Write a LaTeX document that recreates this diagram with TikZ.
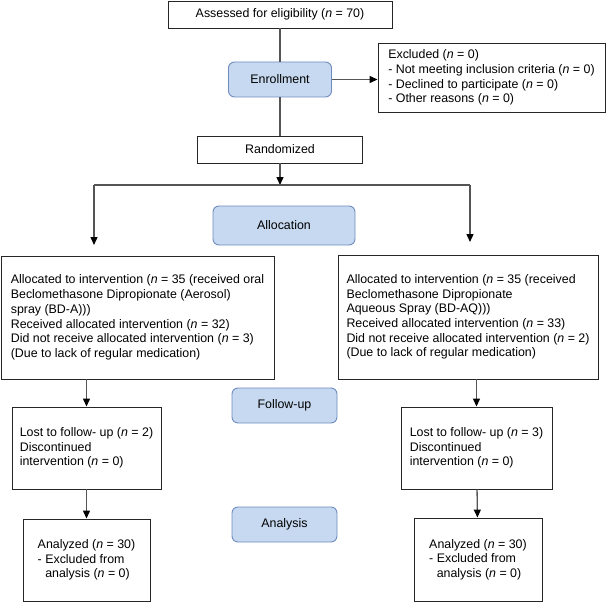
\documentclass[tikz,border=0pt]{standalone}
\usepackage{fontspec}
\setmainfont{Liberation Sans}
\usepackage{xcolor}
\usetikzlibrary{positioning,arrows.meta}
\definecolor{phasefill}{RGB}{198,217,240}
\definecolor{phaseline}{RGB}{110,140,190}
\definecolor{lnkgray}{RGB}{85,85,85}

\begin{document}
\begin{tikzpicture}[x=1pt,y=-1pt,
  box/.style={draw=black!85,line width=.9pt,fill=white,align=left,inner sep=0pt,
    font=\fontsize{12.4}{14.7}\selectfont},
  phase/.style={box,draw=phaseline,fill=phasefill,rounded corners=6pt,align=center},
  lnk/.style={draw=lnkgray,line width=1.3pt},
  arr/.style={lnk,-{Triangle[length=8pt,width=7pt,color=black]}}]
\useasboundingbox (0,0) rectangle (606,602);
% enrollment
\node[box,minimum width=224,minimum height=27] (assess) at (280,14.5)
  {Assessed for eligibility (\textit{n} = 70)};
\node[phase,minimum width=103,minimum height=35] (enroll) at (280,79.5) {Enrollment};
\node[box,minimum width=227,minimum height=69] (excl) at (491.5,77.5)
  {Excluded (\textit{n} = 0)\\- Not meeting inclusion criteria (\textit{n} = 0)\\
   - Declined to participate (\textit{n} = 0)\\- Other reasons (\textit{n} = 0)};
\node[box,minimum width=165,minimum height=27] (rand) at (280,149.5) {Randomized};
% allocation
\node[phase,minimum width=142,minimum height=39] (alloc) at (284,225.5) {Allocation};
\node[box,minimum width=273,minimum height=123] (allocL) at (137.5,317.5)
  {Allocated to intervention (\textit{n} = 35 (received oral\\
   Beclomethasone Dipropionate (Aerosol)\\spray (BD-A)))\\
   Received allocated intervention (\textit{n} = 32)\\
   Did not receive allocated intervention (\textit{n} = 3)\\
   (Due to lack of regular medication)};
\node[box,minimum width=260,minimum height=124] (allocR) at (468,317)
  {Allocated to intervention (\textit{n} = 35 (received\\
   Beclomethasone Dipropionate\\Aqueous Spray (BD-AQ)))\\
   Received allocated intervention (\textit{n} = 33)\\
   Did not receive allocated intervention (\textit{n} = 2)\\
   (Due to lack of regular medication)};
% follow-up
\node[phase,minimum width=105,minimum height=35] (fup) at (284.5,405.5) {Follow-up};
\node[box,minimum width=149,minimum height=82] (lostL) at (86.5,448)
  {Lost to follow- up (\textit{n} = 2)\\Discontinued\\intervention (\textit{n} = 0)};
\node[box,minimum width=151,minimum height=82] (lostR) at (476.5,448)
  {Lost to follow- up (\textit{n} = 3)\\Discontinued\\intervention (\textit{n} = 0)};
% analysis
\node[phase,minimum width=105,minimum height=35] (anal) at (284.5,524.5) {Analysis};
\node[box,minimum width=127,minimum height=82] (anaL) at (86.5,560)
  {Analyzed (\textit{n} = 30)\\- Excluded from\\\hphantom{- }analysis (\textit{n} = 0)};
\node[box,minimum width=128,minimum height=83] (anaR) at (478,559.5)
  {Analyzed (\textit{n} = 30)\\- Excluded from\\\hphantom{- }analysis (\textit{n} = 0)};
% split points
\coordinate (split) at (280,185); \coordinate (splitL) at (94,185);
\coordinate (splitR) at (470,185); \coordinate (tipL) at (94,245);
\coordinate (tipR) at (470,242);
% connectors
\draw[lnk] (assess) -- (enroll); \draw[lnk] (enroll) -- (rand);
\draw[arr] (enroll.east) -- (enroll.east -| excl.west);
\draw[arr] (rand) -- (split); \draw[lnk] (splitL) -- (splitR);
\draw[arr] (splitL) -- (tipL); \draw[arr] (splitR) -- (tipR);
\draw[arr] (allocL.south -| lostL) -- (lostL); \draw[arr] (lostL) -- (anaL);
\draw[arr] (allocR.south -| lostR) -- (lostR); \draw[arr] (lostR) -- (anaR);
\end{tikzpicture}
\end{document}
